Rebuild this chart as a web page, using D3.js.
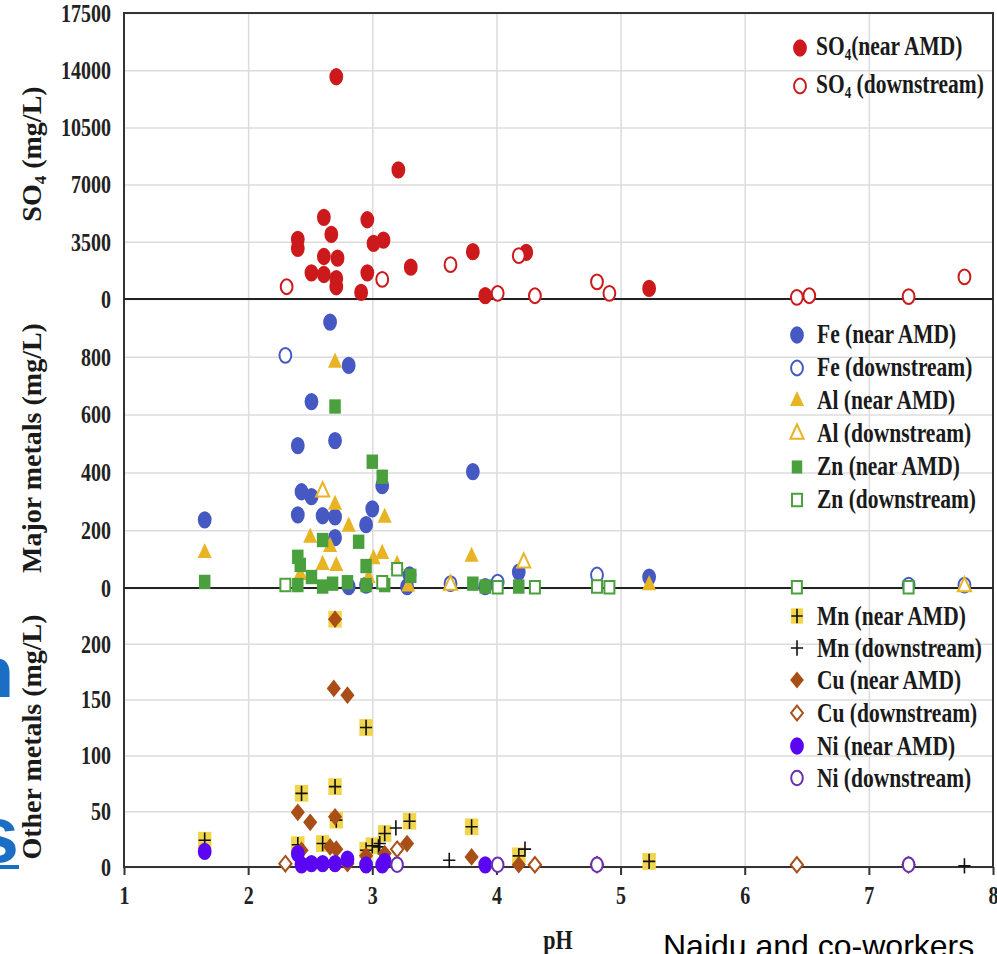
<!DOCTYPE html>
<html>
<head>
<meta charset="utf-8">
<script src="https://cdn.jsdelivr.net/npm/d3@7"></script>
<style>
body{margin:0;background:#fff}
svg{display:block}
</style>
</head>
<body>
<script>
// values: [pH, concentration mg/L]
var so4Near = [[2.71,13600],[3.21,7900],[2.61,5000],[2.96,4850],[2.67,3950],[2.40,3650],[2.40,3100],[3.01,3400],[3.09,3600],[2.61,2600],[2.72,2500],[3.81,2900],[4.24,2850],[2.51,1600],[2.61,1500],[2.71,1250],[2.71,750],[2.96,1600],[3.31,1950],[2.91,400],[3.91,200],[5.23,650]];
var so4Down = [[2.31,750],[3.08,1200],[3.63,2100],[4.18,2650],[4.01,350],[4.31,200],[4.81,1050],[4.91,350],[6.42,100],[6.52,200],[7.32,150],[7.77,1350]];

var feNear = [[2.66,920],[2.81,770],[2.51,645],[2.40,493],[2.70,510],[3.81,403],[3.08,354],[2.43,333],[2.51,316],[3.00,274],[1.65,236],[2.40,253],[2.60,250],[2.70,246],[2.95,219],[2.70,174],[3.30,45],[4.18,55],[2.81,5],[2.95,10],[3.28,5],[3.91,5],[5.23,38]];
var feDown = [[2.30,805],[3.63,15],[4.01,20],[4.81,45],[7.32,10],[7.77,10]];
var alNear = [[2.70,780],[2.70,288],[3.10,243],[2.81,212],[2.50,174],[2.66,142],[1.65,121],[3.80,108],[3.08,118],[3.01,100],[2.60,80],[2.71,76],[2.42,45],[3.20,80],[3.29,5],[2.97,35],[5.23,10]];
var alDown = [[2.60,333],[4.22,87],[3.63,10],[7.77,5]];
var znNear = [[2.70,628],[3.00,437],[3.08,385],[2.89,160],[2.60,166],[2.40,108],[2.42,80],[2.95,76],[3.31,42],[2.51,38],[1.65,21],[2.40,10],[2.60,5],[2.68,15],[2.80,20],[2.95,10],[3.10,10],[3.81,15],[3.91,5],[4.18,5]];
var znDown = [[2.30,10],[3.08,20],[3.20,65],[4.01,3],[4.31,3],[4.81,5],[4.91,3],[6.42,3],[7.32,3]];

var mnNear = [[2.70,222],[2.95,125],[2.43,66],[2.70,72],[2.71,42],[3.30,41],[3.80,36],[3.10,30],[1.65,24],[2.40,20],[2.60,21],[3.00,19],[2.95,15],[4.18,10],[5.23,5]];
var mnDown = [[3.19,35],[3.06,21],[3.05,18],[3.62,6],[4.23,16],[4.31,2],[4.01,2],[4.81,3],[7.77,1]];
var cuNear = [[2.70,222],[2.69,160],[2.80,154],[2.40,49],[2.50,40],[2.70,45],[3.28,21],[2.66,18],[2.71,16],[2.43,15],[3.80,9],[2.95,10],[3.10,12],[4.18,2],[2.80,3]];
var cuDown = [[2.30,3],[3.20,16],[4.31,2],[4.81,2],[6.42,2],[7.32,2]];
var niNear = [[1.65,14],[2.40,12],[2.43,2],[2.51,3],[2.60,3],[2.70,3],[2.80,7],[2.95,2],[3.10,5],[3.91,2],[3.08,2]];
var niDown = [[3.20,2],[4.01,2],[4.81,2],[7.32,2]];

// ticks
var phTicks = [1,2,3,4,5,6,7,8];
var so4Ticks = [0,3500,7000,10500,14000,17500];
var majorTicks = [0,200,400,600,800];
var otherTicks = [0,50,100,150,200];

var legendTop = ["SO4(near AMD)","SO4 (downstream)"];
var legendMid = ["Fe (near AMD)","Fe (downstream)","Al (near AMD)","Al (downstream)","Zn (near AMD)","Zn (downstream)"];
var legendBot = ["Mn (near AMD)","Mn (downstream)","Cu (near AMD)","Cu (downstream)","Ni (near AMD)","Ni (downstream)"];

var width = 997, height = 954;
var serif = "'Liberation Serif','Times New Roman',serif";
var stretch = 1.25; // the picture is a little taller than wide

var svg = d3.select("body").append("svg")
    .attr("width", width)
    .attr("height", height);

var x = d3.scaleLinear().domain([1,8]).range([124,993]);
var ySO4 = d3.scaleLinear().domain([0,17500]).range([299,13]);
var yMajor = d3.scaleLinear().domain([0,1000]).range([588,299]);
var yOther = d3.scaleLinear().domain([0,250]).range([867,588]);

// custom symbols
var diamond = {draw: function(c, size){ var r = Math.sqrt(size)/2; c.moveTo(0,-r); c.lineTo(r,0); c.lineTo(0,r); c.lineTo(-r,0); c.closePath(); }};
var thinPlus = {draw: function(c, size){ var r = Math.sqrt(size)/2; c.moveTo(-r,0); c.lineTo(r,0); c.moveTo(0,-r); c.lineTo(0,r); }};

// vertical grid
var vg = svg.append("g").attr("transform","translate(0,867)")
    .call(d3.axisBottom(x).tickValues([2,3,4,5,6,7]).tickSize(-(867-13)).tickFormat(""));
vg.select(".domain").remove();
vg.selectAll("line").attr("stroke","#dcdcdc").attr("stroke-width",1.5);

// y axes with horizontal grid
function yAxis(scale, ticks){
    var g = svg.append("g").attr("transform","translate(124,0)")
        .call(d3.axisLeft(scale).tickValues(ticks).tickSize(-(993-124)).tickPadding(13).tickFormat(d3.format("d")));
    g.select(".domain").remove();
    g.selectAll("line").attr("stroke","#dcdcdc").attr("stroke-width",1.5);
    g.selectAll("text")
        .attr("font-family", serif).attr("font-size",20).attr("font-weight","bold")
        .attr("fill","#222").attr("transform","scale(1,1.3)");
}
yAxis(ySO4, so4Ticks);
yAxis(yMajor, majorTicks);
yAxis(yOther, otherTicks);

// x axis
var xa = svg.append("g").attr("transform","translate(0,867)")
    .call(d3.axisBottom(x).tickValues(phTicks).tickSize(8).tickPadding(6).tickFormat(d3.format("d")));
xa.select(".domain").remove();
xa.selectAll("line").attr("stroke","#333").attr("stroke-width",2);
xa.selectAll("text")
    .attr("font-family", serif).attr("font-size",20).attr("font-weight","bold")
    .attr("fill","#222").attr("transform","scale(1,1.3)");

// frame and panel separators
svg.append("rect").attr("x",x(1)).attr("y",ySO4(17500)).attr("width",x(8)-x(1)).attr("height",yOther(0)-ySO4(17500))
    .attr("fill","none").attr("stroke","#333").attr("stroke-width",2);
[ySO4(0), yMajor(0)].forEach(function(yy){
    svg.append("line").attr("x1",x(1)).attr("x2",x(8)).attr("y1",yy).attr("y2",yy)
        .attr("stroke","#222").attr("stroke-width",2.2);
});

// markers
function plot(data, y, type, size, fill, stroke, sw){
    svg.append("g").selectAll("path").data(data).enter()
        .append("path")
        .attr("d", d3.symbol().type(type).size(size))
        .attr("transform", function(d){ return "translate("+x(d[0])+","+y(d[1])+") scale(1,"+stretch+")"; })
        .attr("fill", fill)
        .attr("stroke", stroke || "none")
        .attr("stroke-width", sw || 0)
        .attr("vector-effect","non-scaling-stroke");
}

var red = "#cc1a1c", blue = "#4658c2", gold = "#e8b423", green = "#4ba03e",
    mnYellow = "#f1d54c", brown = "#a84e16", violet = "#5a06f2", violetLine = "#6a30b0";

// SO4
plot(so4Near, ySO4, d3.symbolCircle, 150, red);
plot(so4Down, ySO4, d3.symbolCircle, 110, "#fff", red, 2);

// major metals
plot(feNear, yMajor, d3.symbolCircle, 150, blue);
plot(feDown, yMajor, d3.symbolCircle, 110, "#fff", blue, 2);
plot(alNear, yMajor, d3.symbolTriangle, 85, gold);
plot(alDown, yMajor, d3.symbolTriangle, 75, "#fff", gold, 2);
plot(znNear, yMajor, d3.symbolSquare, 132, green);
plot(znDown, yMajor, d3.symbolSquare, 100, "#fff", green, 2);

// other metals
plot(mnNear, yOther, d3.symbolSquare, 180, mnYellow);
plot(mnNear, yOther, thinPlus, 150, "none", "#111", 1.6);
plot(mnDown, yOther, thinPlus, 150, "none", "#111", 1.6);
plot(cuNear, yOther, diamond, 200, brown);
plot(cuDown, yOther, diamond, 150, "#fff", brown, 2);
plot(niNear, yOther, d3.symbolCircle, 150, violet);
plot(niDown, yOther, d3.symbolCircle, 105, "#fff", violetLine, 2);

// legends
function legendText(lx, ly, label){
    var t = svg.append("text")
        .attr("transform","translate("+lx+","+ly+") scale(1,"+stretch+")")
        .attr("font-family", serif).attr("font-size",21.5).attr("font-weight","bold").attr("fill","#1a1a1a");
    if (label.indexOf("SO4") === 0){
        t.append("tspan").text("SO");
        t.append("tspan").attr("font-size",13).attr("dy",4).text("4");
        t.append("tspan").attr("dy",-4).text(label.slice(3));
    } else {
        t.text(label);
    }
}
function legendMarker(lx, ly, type, size, fill, stroke, sw){
    svg.append("path")
        .attr("d", d3.symbol().type(type).size(size))
        .attr("transform","translate("+lx+","+ly+") scale(1,"+stretch+")")
        .attr("fill", fill).attr("stroke", stroke || "none").attr("stroke-width", sw || 0)
        .attr("vector-effect","non-scaling-stroke");
}

var topRows = [48,86];
legendMarker(800, topRows[0], d3.symbolCircle, 150, red);
legendMarker(800, topRows[1], d3.symbolCircle, 110, "#fff", red, 2);
legendTop.forEach(function(l,i){ legendText(816, topRows[i]+7, l); });

var midRows = [335,368,401,434,467,500];
legendMarker(797, midRows[0], d3.symbolCircle, 150, blue);
legendMarker(797, midRows[1], d3.symbolCircle, 110, "#fff", blue, 2);
legendMarker(797, midRows[2], d3.symbolTriangle, 85, gold);
legendMarker(797, midRows[3], d3.symbolTriangle, 75, "#fff", gold, 2);
legendMarker(797, midRows[4], d3.symbolSquare, 110, green);
legendMarker(797, midRows[5], d3.symbolSquare, 100, "#fff", green, 2);
legendMid.forEach(function(l,i){ legendText(817, midRows[i]+8, l); });

var botRows = [616,648,680,713,746,778];
legendMarker(797, botRows[0], d3.symbolSquare, 150, mnYellow);
legendMarker(797, botRows[0], thinPlus, 130, "none", "#111", 1.6);
legendMarker(797, botRows[1], thinPlus, 150, "none", "#111", 1.6);
legendMarker(797, botRows[2], diamond, 190, brown);
legendMarker(797, botRows[3], diamond, 140, "#fff", brown, 2);
legendMarker(797, botRows[4], d3.symbolCircle, 150, violet);
legendMarker(797, botRows[5], d3.symbolCircle, 105, "#fff", violetLine, 2);
legendBot.forEach(function(l,i){ legendText(817, botRows[i]+9, l); });

// axis titles
function yTitle(cy, parts){
    var t = svg.append("text")
        .attr("transform","translate(41,"+cy+") rotate(-90)")
        .attr("text-anchor","middle")
        .attr("font-family", serif).attr("font-size",28).attr("font-weight","bold").attr("fill","#1a1a1a");
    parts.forEach(function(p){
        var s = t.append("tspan").text(p[0]);
        if (p[1]) s.attr("dy",p[1]);
        if (p[2]) s.attr("font-size",p[2]);
    });
}
yTitle(154, [["SO"],["4",5,17],[" (mg/L)",-5]]);
yTitle(448, [["Major metals (mg/L)"]]);
yTitle(737, [["Other metals (mg/L)"]]);

svg.append("text").attr("transform","translate(558,949) scale(1,"+stretch+")").attr("text-anchor","middle")
    .attr("font-family", serif).attr("font-size",22).attr("font-weight","bold").attr("fill","#1a1a1a")
    .text("pH");

svg.append("text").attr("x",663).attr("y",957)
    .attr("font-family","'Liberation Sans',Arial,sans-serif").attr("font-size",32).attr("fill","#000")
    .text("Naidu and co-workers");

// bits of the slide text cut off at the left edge
svg.append("text").attr("x",14).attr("y",697).attr("text-anchor","end")
    .attr("font-family","'Liberation Sans',Arial,sans-serif").attr("font-size",72).attr("font-weight","bold")
    .attr("fill","#1a6fc4").text("n");
svg.append("text").attr("x",19).attr("y",862).attr("text-anchor","end")
    .attr("font-family","'Liberation Sans',Arial,sans-serif").attr("font-size",80).attr("font-weight","bold")
    .attr("fill","#1a6fc4").text("s");
svg.append("rect").attr("x",0).attr("y",865).attr("width",19).attr("height",4).attr("fill","#1a6fc4");
</script>
</body>
</html>
